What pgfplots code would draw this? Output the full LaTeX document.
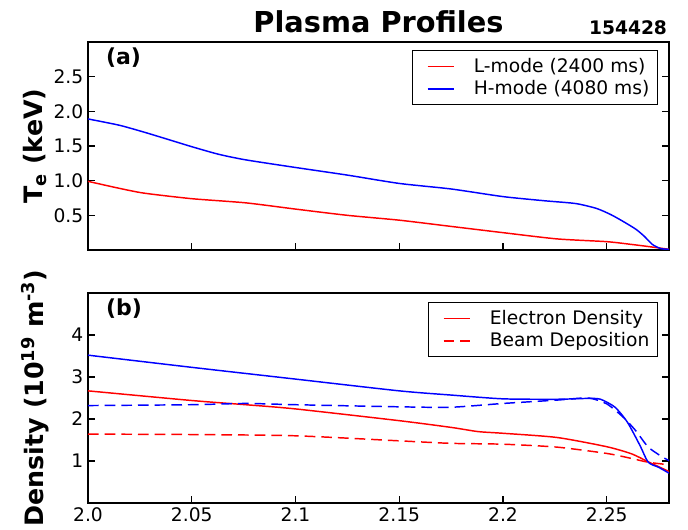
\documentclass[border=0pt]{standalone}
\usepackage{pgfplots}
\pgfplotsset{compat=1.18}
\usepackage{fontspec}
\setmainfont{DejaVu Sans}
\begin{document}
\begin{tikzpicture}
\pgfplotsset{
  myax/.style={
    scale only axis, width=435.75pt,
    xmin=2.0, xmax=2.28,
    axis line style={line width=1.1pt},
    tick style={black, line width=0.8pt},
    major tick length=5pt,
    tick align=inside,
    xtick pos=left, ytick pos=both,
    /pgf/number format/assume math mode=true,
    tick label style={font=\fontsize{14}{16}\selectfont},
    ylabel style={at={(axis description cs:-0.0912,0.5)}, anchor=center, font=\bfseries\fontsize{19}{22}\selectfont},
    legend cell align=left,
    legend style={draw=black, line width=0.8pt, font=\fontsize{14}{17}\selectfont,
      anchor=north east, inner xsep=4pt, inner ysep=4pt, row sep=0.5pt,
      /tikz/every odd column/.append style={column sep=12pt}},
  },
  every axis plot/.append style={line width=1.1pt, smooth, tension=0.4},
}
\pgfplotsset{legend image code/.code={\path (0pt,0pt); \draw[#1,line width=1.2pt] (7pt,0pt) -- (27pt,0pt);}}
\begin{axis}[myax, name=top, at={(0,0)}, anchor=north west, height=156pt,
  ymin=0, ymax=3, ytick={0.5,1,1.5,2,2.5},
  yticklabel style={/pgf/number format/fixed, /pgf/number format/fixed zerofill, /pgf/number format/precision=1},
  xtick={2.05,2.1,2.15,2.2,2.25}, xticklabels={},
  ylabel={T\textsubscript{e} (keV)},
  legend style={at={(axis description cs:0.981,0.962)}},
]
\addplot[red] coordinates {(2.000,0.99) (2.015,0.89) (2.027,0.82) (2.050,0.74) (2.076,0.68) (2.100,0.59) (2.125,0.50) (2.150,0.43) (2.175,0.34) (2.200,0.25) (2.226,0.16) (2.250,0.12) (2.262,0.08) (2.270,0.05) (2.280,0.01)};
\addlegendentry{L-mode (2400 ms)}
\addplot[blue] coordinates {(2.000,1.89) (2.015,1.80) (2.027,1.70) (2.038,1.60) (2.050,1.49) (2.063,1.38) (2.076,1.30) (2.100,1.19) (2.125,1.08) (2.150,0.96) (2.175,0.88) (2.200,0.77) (2.220,0.71) (2.235,0.67) (2.245,0.60) (2.252,0.51) (2.258,0.41) (2.264,0.30) (2.268,0.20) (2.272,0.08) (2.276,0.02) (2.280,0.01)};
\addlegendentry{H-mode (4080 ms)}
\node[anchor=west, font=\bfseries\fontsize{16.5}{18}\selectfont] at (rel axis cs:0,1) [xshift=10pt, yshift=-12pt] {(a)};
\end{axis}
\node[font=\bfseries\fontsize{21.6}{24}\selectfont] at (top.north) [yshift=15pt] {Plasma Profiles};
\node[anchor=east, font=\bfseries\fontsize{14}{16}\selectfont] at (top.north east) [xshift=2pt, yshift=10.5pt] {154428};
\begin{axis}[myax, name=bot, at={(0,-188.25pt)}, anchor=north west, height=157.5pt,
  ymin=0, ymax=5, ytick={1,2,3,4},
  xtick={2.0,2.05,2.1,2.15,2.2,2.25}, xticklabels={2.0,2.05,2.1,2.15,2.2,2.25},
  ylabel={Density (10\textsuperscript{19} m\textsuperscript{-3})},
  legend style={at={(axis description cs:0.981,0.957)}},
]
\addplot[red] coordinates {(2.000,2.67) (2.050,2.44) (2.076,2.34) (2.100,2.24) (2.150,1.96) (2.175,1.80) (2.188,1.70) (2.200,1.66) (2.226,1.56) (2.250,1.34) (2.262,1.17) (2.270,0.98) (2.280,0.75)};
\addlegendentry{Electron Density}
\addplot[red, dash pattern=on 8pt off 4.5pt] coordinates {(2.000,1.64) (2.050,1.63) (2.100,1.60) (2.150,1.48) (2.175,1.42) (2.200,1.40) (2.226,1.33) (2.250,1.18) (2.262,1.06) (2.270,0.97) (2.280,0.91)};
\addlegendentry{Beam Deposition}
\addplot[blue, forget plot] coordinates {(2.000,3.52) (2.050,3.23) (2.100,2.95) (2.150,2.67) (2.175,2.57) (2.200,2.48) (2.226,2.47) (2.241,2.49) (2.247,2.47) (2.254,2.28) (2.260,1.92) (2.266,1.37) (2.270,0.97) (2.275,0.85) (2.280,0.71)};
\addplot[blue, dash pattern=on 8pt off 4.5pt, forget plot] coordinates {(2.000,2.32) (2.050,2.34) (2.076,2.37) (2.100,2.34) (2.150,2.29) (2.175,2.28) (2.200,2.37) (2.226,2.45) (2.241,2.50) (2.250,2.36) (2.258,2.04) (2.264,1.72) (2.270,1.33) (2.277,1.09) (2.280,1.01)};
\node[anchor=west, font=\bfseries\fontsize{16.5}{18}\selectfont] at (rel axis cs:0,1) [xshift=10pt, yshift=-12pt] {(b)};
\end{axis}
\pgfresetboundingbox
\path (top.north west) ++(-66pt,31.5pt) rectangle ++(516pt,-397.5pt);
\end{tikzpicture}
\end{document}
